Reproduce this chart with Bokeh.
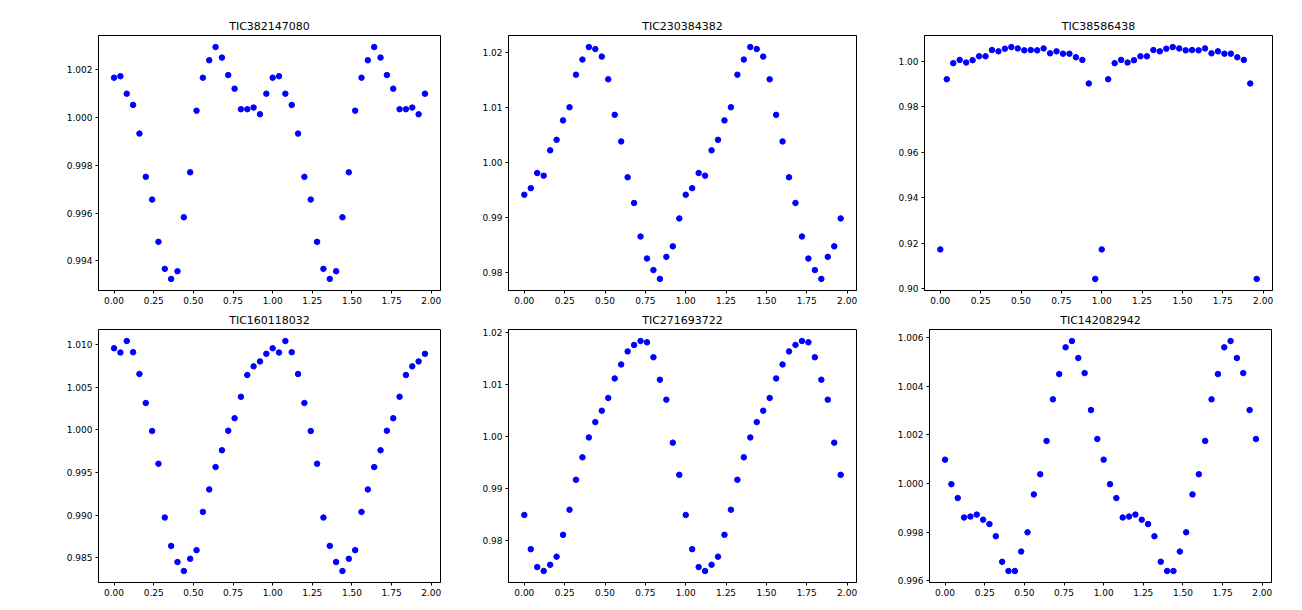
from bokeh.plotting import figure
from bokeh.layouts import column, row
from bokeh.models import Range1d, FixedTicker, PrintfTickFormatter
from bokeh.embed import file_html
from bokeh.resources import INLINE

# phase grid of one cycle (plotted twice: phase and phase + 1)
phase = [0.00, 0.04, 0.08, 0.12, 0.16, 0.20, 0.24, 0.28, 0.32, 0.36,
         0.40, 0.44, 0.48, 0.52, 0.56, 0.60, 0.64, 0.68, 0.72, 0.76,
         0.80, 0.84, 0.88, 0.92, 0.96]

titles = ["TIC382147080", "TIC230384382", "TIC38586438",
          "TIC160118032", "TIC271693722", "TIC142082942"]

flux_382147080 = [1.00167, 1.00173, 1.00100, 1.00053, 0.99933, 0.99752, 0.99657,
                  0.99480, 0.99367, 0.99325, 0.99357, 0.99583, 0.99771, 1.00029,
                  1.00167, 1.00240, 1.00295, 1.00251, 1.00178, 1.00121, 1.00035,
                  1.00035, 1.00042, 1.00014, 1.00100]
flux_230384382 = [0.99414, 0.99533, 0.99809, 0.99761, 1.00221, 1.00413, 1.00766,
                  1.01005, 1.01597, 1.01872, 1.02099, 1.02063, 1.01926, 1.01513,
                  1.00867, 1.00383, 0.99731, 0.99264, 0.98654, 0.98254, 0.98044,
                  0.97883, 0.98284, 0.98475, 0.98983]
flux_38586438 = [0.91729, 0.99207, 0.99914, 1.00058, 0.99942, 1.00043, 1.00216,
                 1.00216, 1.00490, 1.00432, 1.00548, 1.00620, 1.00562, 1.00476,
                 1.00490, 1.00476, 1.00562, 1.00346, 1.00432, 1.00331, 1.00331,
                 1.00173, 1.00058, 0.99020, 0.90432]
flux_160118032 = [1.00954, 1.00904, 1.01039, 1.00908, 1.00653, 1.00313, 0.99985,
                  0.99602, 0.98972, 0.98640, 0.98451, 0.98346, 0.98489, 0.98590,
                  0.99038, 0.99301, 0.99563, 0.99760, 0.99988, 1.00135, 1.00386,
                  1.00641, 1.00742, 1.00800, 1.00889]
flux_271693722 = [0.98494, 0.97838, 0.97494, 0.97419, 0.97538, 0.97694, 0.98113,
                  0.98594, 0.99169, 0.99600, 0.99981, 1.00275, 1.00494, 1.00738,
                  1.01113, 1.01381, 1.01631, 1.01756, 1.01831, 1.01806, 1.01519,
                  1.01088, 1.00706, 0.99881, 0.99263]
flux_142082942 = [1.00098, 0.99997, 0.99940, 0.99860, 0.99864, 0.99872, 0.99851,
                  0.99833, 0.99783, 0.99678, 0.99640, 0.99640, 0.99720, 0.99799,
                  0.99955, 1.00038, 1.00175, 1.00346, 1.00450, 1.00560, 1.00586,
                  1.00516, 1.00454, 1.00302, 1.00183]

x_ticks = [0.0, 0.25, 0.5, 0.75, 1.0, 1.25, 1.5, 1.75, 2.0]
x_tick_labels = ["0.00", "0.25", "0.50", "0.75", "1.00", "1.25", "1.50", "1.75", "2.00"]

y_ticks = [
    [0.994, 0.996, 0.998, 1.000, 1.002],
    [0.98, 0.99, 1.00, 1.01, 1.02],
    [0.90, 0.92, 0.94, 0.96, 0.98, 1.00],
    [0.985, 0.990, 0.995, 1.000, 1.005, 1.010],
    [0.98, 0.99, 1.00, 1.01, 1.02],
    [0.996, 0.998, 1.000, 1.002, 1.004, 1.006],
]
y_tick_labels = [
    ["0.994", "0.996", "0.998", "1.000", "1.002"],
    ["0.98", "0.99", "1.00", "1.01", "1.02"],
    ["0.90", "0.92", "0.94", "0.96", "0.98", "1.00"],
    ["0.985", "0.990", "0.995", "1.000", "1.005", "1.010"],
    ["0.98", "0.99", "1.00", "1.01", "1.02"],
    ["0.996", "0.998", "1.000", "1.002", "1.004", "1.006"],
]
y_formats = ["%.3f", "%.2f", "%.2f", "%.3f", "%.2f", "%.3f"]

series = [flux_382147080, flux_230384382, flux_38586438,
          flux_160118032, flux_271693722, flux_142082942]

# layout: (width, height, left, right, top, bottom)
geom = [
    (466, 308, 98, 26, 35, 18),
    (418, 308, 42, 28, 32, 18),
    (418, 308, 40, 30, 32, 18),
    (466, 302, 98, 26, 20, 28),
    (418, 302, 42, 28, 15, 28),
    (418, 302, 45, 31, 20, 28),
]

FONT = "DejaVu Sans"


def padded(lo, hi, frac=0.05):
    span = hi - lo
    return lo - frac * span, hi + frac * span


figs = []
for i in range(6):
    w, h, bl, br, bt, bb = geom[i]
    xs = phase + [p + 1.0 for p in phase]
    ys = series[i] + series[i]
    x0, x1 = padded(min(xs), max(xs))
    y0, y1 = padded(min(ys), max(ys))
    p = figure(width=w, height=h, output_backend="svg", toolbar_location=None,
               x_range=Range1d(x0, x1), y_range=Range1d(y0, y1),
               min_border_left=bl, min_border_right=br,
               min_border_top=bt, min_border_bottom=bb,
               title=titles[i])
    p.scatter(xs, ys, size=5.5, color="#0000ff", line_color="#0000ff")
    p.title.text_font = FONT
    p.title.text_font_size = "11px"
    p.title.text_font_style = "normal"
    p.title.align = "center"
    p.title.text_color = "black"
    p.title.standoff = 6
    p.xgrid.visible = False
    p.ygrid.visible = False
    p.outline_line_color = "black"
    p.outline_line_width = 1
    p.outline_line_alpha = 1
    p.background_fill_color = "white"
    p.border_fill_color = "white"

    p.xaxis.ticker = FixedTicker(ticks=x_ticks)
    p.xaxis.major_label_overrides = {t: l for t, l in zip(x_ticks, x_tick_labels)}
    p.xaxis.formatter = PrintfTickFormatter(format="%.2f")
    p.yaxis.ticker = FixedTicker(ticks=y_ticks[i])
    p.yaxis.major_label_overrides = {t: l for t, l in zip(y_ticks[i], y_tick_labels[i])}
    p.yaxis.formatter = PrintfTickFormatter(format=y_formats[i])
    for ax in (p.xaxis[0], p.yaxis[0]):
        ax.major_label_text_font = FONT
        ax.major_label_text_font_size = "9px"
        ax.major_label_text_color = "black"
        ax.major_tick_in = 0
        ax.major_tick_out = 3
        ax.minor_tick_in = 0
        ax.minor_tick_out = 0
        ax.major_label_standoff = 3
        ax.axis_line_color = "black"
        ax.major_tick_line_color = "black"
    figs.append(p)

layout = column(row(figs[0], figs[1], figs[2]), row(figs[3], figs[4], figs[5]))
open("out.html", "w").write(file_html(layout, INLINE))
